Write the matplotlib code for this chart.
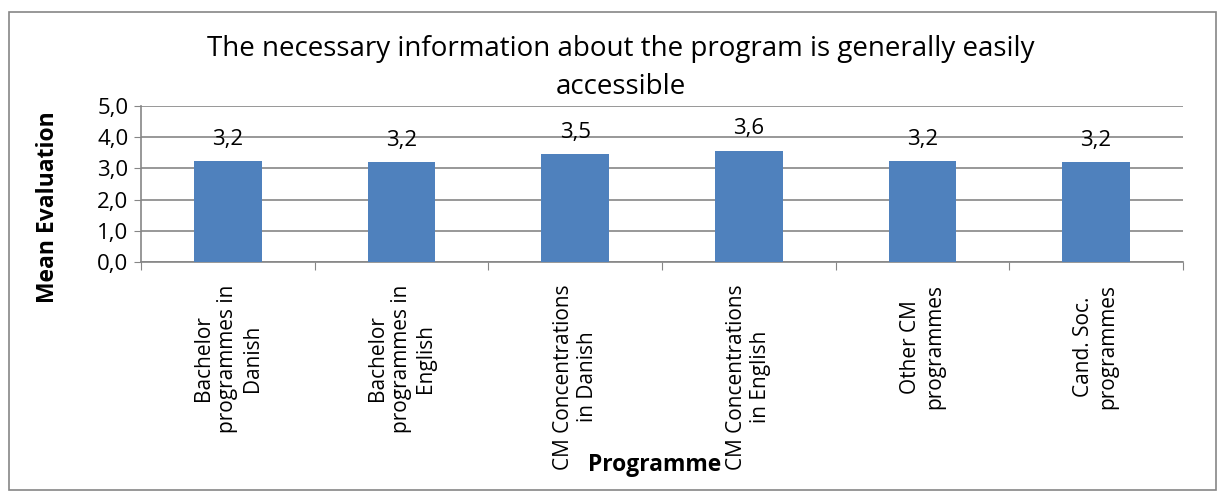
import matplotlib

matplotlib.use("Agg")
import matplotlib.pyplot as plt
from matplotlib.patches import Rectangle

plt.rcParams.update({
    "font.family": ["Open Sans", "DejaVu Sans"],
    "font.size": 12,
})

CATEGORIES = [
    "Bachelor\nprogrammes in\nDanish",
    "Bachelor\nprogrammes in\nEnglish",
    "CM Concentrations\nin Danish",
    "CM Concentrations\nin English",
    "Other CM\nprogrammes",
    "Cand. Soc.\nprogrammes",
]
MEAN_EVAL = [3.24, 3.21, 3.46, 3.57, 3.23, 3.21]
YTICKS = [0.0, 1.0, 2.0, 3.0, 4.0, 5.0]

BAR_COLOR = "#4F81BD"
GRID_COLOR = "#868686"

fig = plt.figure(figsize=(12.22, 4.92), dpi=100)
ax = fig.add_axes([0.1154, 0.4675, 0.8526, 0.3171])

x = list(range(len(CATEGORIES)))
ax.bar(x, MEAN_EVAL, width=0.39, color=BAR_COLOR, zorder=3)
for xi, v in zip(x, MEAN_EVAL):
    ax.annotate(f"{v:.1f}".replace(".", ","), (xi, v), xytext=(0, 8),
                textcoords="offset points", ha="center", va="bottom",
                fontsize=16)

ax.set_xlim(-0.5, len(CATEGORIES) - 0.5)
ax.set_ylim(0, 5)
ax.set_yticks(YTICKS)
ax.set_yticklabels([f"{t:.1f}".replace(".", ",") for t in YTICKS], fontsize=16)
ax.yaxis.grid(True, color=GRID_COLOR, linewidth=1.2, zorder=0)
ax.set_axisbelow(True)

ax.set_xticks([i - 0.5 for i in range(len(CATEGORIES) + 1)])
ax.set_xticklabels([])
ax.set_xticks(x, minor=True)
ax.set_xticklabels(CATEGORIES, minor=True, rotation=90, ha="center",
                   va="top", multialignment="center", fontsize=15)
ax.tick_params(axis="x", which="major", length=6, color=GRID_COLOR)
ax.tick_params(axis="x", which="minor", length=0, pad=16)
ax.tick_params(axis="y", length=5, color=GRID_COLOR, pad=4)

for side in ("top", "right"):
    ax.spines[side].set_visible(False)
for side in ("left", "bottom"):
    ax.spines[side].set_color(GRID_COLOR)
    ax.spines[side].set_linewidth(1.2)

fig.text(0.508, 0.862,
         "The necessary information about the program is generally easily\naccessible",
         ha="center", va="center", fontsize=20, linespacing=1.5)
fig.text(0.039, 0.58, "Mean Evaluation", rotation=90, ha="center",
         va="center", fontsize=16.5, fontweight="bold")
fig.text(0.536, 0.055, "Programme", ha="center", va="center",
         fontsize=16.5, fontweight="bold")

fig.patches.append(Rectangle((0.007, 0.004), 0.988, 0.972,
                             transform=fig.transFigure, fill=False,
                             edgecolor="#868686", linewidth=1.2))

fig.savefig("out.png", dpi=100)
